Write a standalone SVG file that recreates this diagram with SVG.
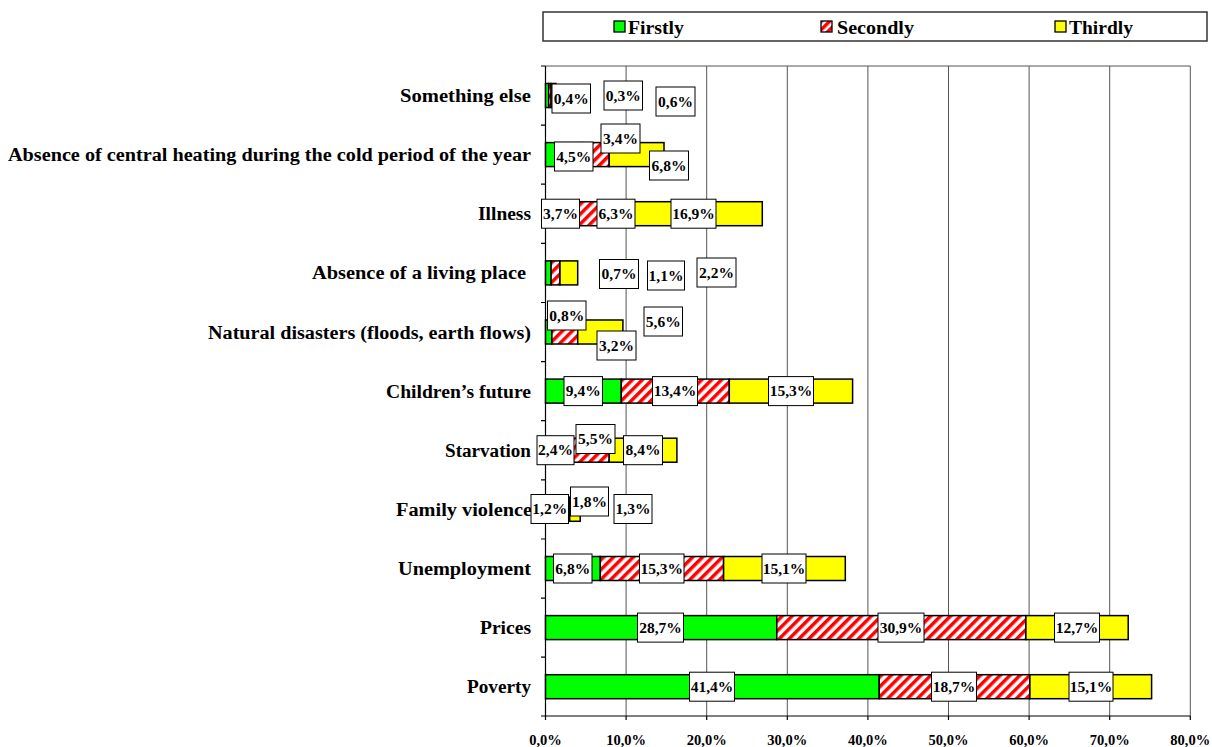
<svg xmlns="http://www.w3.org/2000/svg" width="1212" height="747" viewBox="0 0 1212 747">
<defs>
<pattern id="hatch" patternUnits="userSpaceOnUse" width="7" height="7" patternTransform="rotate(45)">
<rect width="7" height="7" fill="#fff"/>
<rect width="3.5" height="7" fill="#ff0000"/>
</pattern>
<pattern id="hatchS" patternUnits="userSpaceOnUse" width="6" height="6" patternTransform="rotate(45)">
<rect width="6" height="6" fill="#fff"/>
<rect width="3.5" height="6" fill="#ff0000"/>
</pattern>
</defs>
<style>
text{font-family:"Liberation Serif","Times New Roman",serif;font-weight:bold;fill:#000}
.cat{font-size:18px;text-anchor:end}
.tick{font-size:14.5px;text-anchor:middle}
.leg{font-size:18px}
.lbl rect{fill:#fff;stroke:#000;stroke-width:1}
.lbl text{font-size:15.5px;text-anchor:middle}
.grid{stroke:#555;stroke-width:1}
.g{fill:#00ff00;stroke:#000;stroke-width:1.5}
.r{fill:url(#hatch);stroke:#000;stroke-width:1.5}
.y{fill:#ffff00;stroke:#000;stroke-width:1.5}
.axis{stroke:#000;stroke-width:1.2;fill:none}
</style>
<rect width="1212" height="747" fill="#fff"/>

<g id="legend">
<rect x="543" y="12" width="664" height="29" fill="#fff" stroke="#333" stroke-width="1.5"/>
<rect x="614" y="21" width="11" height="11" fill="#00ff00" stroke="#000" stroke-width="1.3"/>
<text class="leg" x="628" y="34" textLength="56" lengthAdjust="spacingAndGlyphs">Firstly</text>
<rect x="821" y="21" width="11" height="11" fill="url(#hatchS)" stroke="#000" stroke-width="1.3"/>
<text class="leg" x="837" y="34" textLength="77" lengthAdjust="spacingAndGlyphs">Secondly</text>
<rect x="1055" y="21" width="11" height="11" fill="#ffff00" stroke="#000" stroke-width="1.3"/>
<text class="leg" x="1069" y="34" textLength="64" lengthAdjust="spacingAndGlyphs">Thirdly</text>
</g>

<g id="gridlines">
<line class="grid" x1="545.5" y1="66" x2="1190.3" y2="66" stroke="#888"/>
<line class="grid" x1="626.1" y1="66" x2="626.1" y2="716"/>
<line class="grid" x1="706.7" y1="66" x2="706.7" y2="716"/>
<line class="grid" x1="787.3" y1="66" x2="787.3" y2="716"/>
<line class="grid" x1="867.9" y1="66" x2="867.9" y2="716"/>
<line class="grid" x1="948.5" y1="66" x2="948.5" y2="716"/>
<line class="grid" x1="1029.1" y1="66" x2="1029.1" y2="716"/>
<line class="grid" x1="1109.7" y1="66" x2="1109.7" y2="716"/>
<line class="grid" x1="1190.3" y1="66" x2="1190.3" y2="716"/>
</g>

<g id="axes">
<path class="axis" d="M545.5 66V716H1190.3"/>
<path class="axis" d="M541 66H545.5M541 125.1H545.5M541 184.2H545.5M541 243.4H545.5M541 302.5H545.5M541 361.6H545.5M541 420.7H545.5M541 479.8H545.5M541 539H545.5M541 598.1H545.5M541 657.2H545.5M541 716H545.5"/>
<path class="axis" d="M545.5 716V720M626.1 716V720M706.7 716V720M787.3 716V720M867.9 716V720M948.5 716V720M1029.1 716V720M1109.7 716V720M1190.3 716V720"/>
<text class="tick" x="545.5" y="745">0,0%</text>
<text class="tick" x="626.1" y="745">10,0%</text>
<text class="tick" x="706.7" y="745">20,0%</text>
<text class="tick" x="787.3" y="745">30,0%</text>
<text class="tick" x="867.9" y="745">40,0%</text>
<text class="tick" x="948.5" y="745">50,0%</text>
<text class="tick" x="1029.1" y="745">60,0%</text>
<text class="tick" x="1109.7" y="745">70,0%</text>
<text class="tick" x="1190.3" y="745">80,0%</text>
</g>

<g id="categories">
<text class="cat" x="531" y="102" textLength="131" lengthAdjust="spacingAndGlyphs">Something else</text>
<text class="cat" x="531" y="161" textLength="523" lengthAdjust="spacingAndGlyphs">Absence of central heating during the cold period of the year</text>
<text class="cat" x="531" y="220" textLength="53" lengthAdjust="spacingAndGlyphs">Illness</text>
<text class="cat" x="526" y="279" textLength="214" lengthAdjust="spacingAndGlyphs">Absence of a living place</text>
<text class="cat" x="531" y="338.5" textLength="323" lengthAdjust="spacingAndGlyphs">Natural disasters (floods, earth flows)</text>
<text class="cat" x="531" y="397.5" textLength="145" lengthAdjust="spacingAndGlyphs">Children’s future</text>
<text class="cat" x="531" y="456.5" textLength="86" lengthAdjust="spacingAndGlyphs">Starvation</text>
<text class="cat" x="532" y="515.5" textLength="136" lengthAdjust="spacingAndGlyphs">Family violence</text>
<text class="cat" x="531" y="575" textLength="133" lengthAdjust="spacingAndGlyphs">Unemployment</text>
<text class="cat" x="531" y="634" textLength="51" lengthAdjust="spacingAndGlyphs">Prices</text>
<text class="cat" x="531" y="693" textLength="64" lengthAdjust="spacingAndGlyphs">Poverty</text>
</g>

<g id="bar-something-else">
<rect class="g" x="545.5" y="83.5" width="3.2" height="24"/>
<rect class="r" x="548.7" y="83.5" width="2.4" height="24"/>
<rect class="y" x="551.1" y="83.5" width="4.9" height="24"/>
<g class="lbl"><rect x="552" y="84" width="38.5" height="29"/><text x="571.2" y="103.5">0,4%</text></g>
<g class="lbl"><rect x="604" y="81" width="38.5" height="29"/><text x="623.2" y="100.5">0,3%</text></g>
<g class="lbl"><rect x="656" y="87" width="39" height="29"/><text x="675.5" y="106.5">0,6%</text></g>
</g>

<g id="bar-central-heating">
<rect class="g" x="545.5" y="142.6" width="36.3" height="24"/>
<rect class="r" x="581.8" y="142.6" width="27.4" height="24"/>
<rect class="y" x="609.2" y="142.6" width="54.8" height="24"/>
<g class="lbl"><rect x="554.5" y="142" width="38.5" height="29"/><text x="573.7" y="161.5">4,5%</text></g>
<g class="lbl"><rect x="601" y="124" width="39" height="29"/><text x="620.5" y="143.5">3,4%</text></g>
<g class="lbl"><rect x="649.5" y="151" width="39" height="29"/><text x="669" y="170.5">6,8%</text></g>
</g>

<g id="bar-illness">
<rect class="g" x="545.5" y="201.7" width="29.8" height="24"/>
<rect class="r" x="575.3" y="201.7" width="50.8" height="24"/>
<rect class="y" x="626.1" y="201.7" width="136.2" height="24"/>
<g class="lbl"><rect x="541.5" y="199.2" width="38" height="29"/><text x="560.5" y="218.7">3,7%</text></g>
<g class="lbl"><rect x="597" y="199.2" width="38" height="29"/><text x="616" y="218.7">6,3%</text></g>
<g class="lbl"><rect x="671" y="199.2" width="45" height="29"/><text x="693.5" y="218.7">16,9%</text></g>
</g>

<g id="bar-living-place">
<rect class="g" x="545.5" y="260.9" width="5.6" height="24"/>
<rect class="r" x="551.1" y="260.9" width="8.9" height="24"/>
<rect class="y" x="560" y="260.9" width="17.7" height="24"/>
<g class="lbl"><rect x="599.5" y="259.5" width="39" height="29"/><text x="619" y="279">0,7%</text></g>
<g class="lbl"><rect x="647.5" y="261" width="37" height="29"/><text x="666" y="280.5">1,1%</text></g>
<g class="lbl"><rect x="697" y="258" width="39" height="29"/><text x="716.5" y="277.5">2,2%</text></g>
</g>

<g id="bar-natural-disasters">
<rect class="g" x="545.5" y="320" width="6.4" height="24"/>
<rect class="r" x="551.9" y="320" width="25.8" height="24"/>
<rect class="y" x="577.7" y="320" width="45.2" height="24"/>
<g class="lbl"><rect x="547.5" y="301" width="38.5" height="29"/><text x="566.7" y="320.5">0,8%</text></g>
<g class="lbl"><rect x="644" y="307" width="38.5" height="29"/><text x="663.2" y="326.5">5,6%</text></g>
<g class="lbl"><rect x="597" y="331" width="39" height="29"/><text x="616.5" y="350.5">3,2%</text></g>
</g>

<g id="bar-childrens-future">
<rect class="g" x="545.5" y="379.1" width="75.8" height="24"/>
<rect class="r" x="621.3" y="379.1" width="108" height="24"/>
<rect class="y" x="729.3" y="379.1" width="123.3" height="24"/>
<g class="lbl"><rect x="564" y="376.6" width="38.5" height="29"/><text x="583.2" y="396.1">9,4%</text></g>
<g class="lbl"><rect x="652.5" y="376.6" width="45" height="29"/><text x="675" y="396.1">13,4%</text></g>
<g class="lbl"><rect x="768.5" y="376.6" width="45" height="29"/><text x="791" y="396.1">15,3%</text></g>
</g>

<g id="bar-starvation">
<rect class="g" x="545.5" y="438.2" width="19.3" height="24"/>
<rect class="r" x="564.8" y="438.2" width="44.4" height="24"/>
<rect class="y" x="609.2" y="438.2" width="67.7" height="24"/>
<g class="lbl"><rect x="537" y="435.7" width="37" height="29"/><text x="555.5" y="455.2">2,4%</text></g>
<g class="lbl"><rect x="576" y="424.5" width="39" height="29"/><text x="595.5" y="444">5,5%</text></g>
<g class="lbl"><rect x="623.5" y="435.7" width="39" height="29"/><text x="643" y="455.2">8,4%</text></g>
</g>

<g id="bar-family-violence">
<rect class="g" x="545.5" y="497.3" width="9.7" height="24"/>
<rect class="r" x="555.2" y="497.3" width="14.5" height="24"/>
<rect class="y" x="569.7" y="497.3" width="10.5" height="24"/>
<g class="lbl"><rect x="531" y="494.5" width="37.5" height="29"/><text x="549.7" y="514">1,2%</text></g>
<g class="lbl"><rect x="570.5" y="487" width="38" height="29"/><text x="589.5" y="506.5">1,8%</text></g>
<g class="lbl"><rect x="614" y="494.5" width="38" height="29"/><text x="633" y="514">1,3%</text></g>
</g>

<g id="bar-unemployment">
<rect class="g" x="545.5" y="556.5" width="54.8" height="24"/>
<rect class="r" x="600.3" y="556.5" width="123.3" height="24"/>
<rect class="y" x="723.6" y="556.5" width="121.7" height="24"/>
<g class="lbl"><rect x="553.5" y="554" width="38.5" height="29"/><text x="572.7" y="573.5">6,8%</text></g>
<g class="lbl"><rect x="639.5" y="554" width="44.5" height="29"/><text x="661.7" y="573.5">15,3%</text></g>
<g class="lbl"><rect x="762" y="554" width="44" height="29"/><text x="784" y="573.5">15,1%</text></g>
</g>

<g id="bar-prices">
<rect class="g" x="545.5" y="615.6" width="231.3" height="24"/>
<rect class="r" x="776.8" y="615.6" width="249.1" height="24"/>
<rect class="y" x="1025.9" y="615.6" width="102.3" height="24"/>
<g class="lbl"><rect x="637.5" y="613.1" width="46" height="29"/><text x="660.5" y="632.6">28,7%</text></g>
<g class="lbl"><rect x="878" y="613.1" width="46" height="29"/><text x="901" y="632.6">30,9%</text></g>
<g class="lbl"><rect x="1054.5" y="613.1" width="45" height="29"/><text x="1077" y="632.6">12,7%</text></g>
</g>

<g id="bar-poverty">
<rect class="g" x="545.5" y="674.7" width="333.7" height="24"/>
<rect class="r" x="879.2" y="674.7" width="150.7" height="24"/>
<rect class="y" x="1029.9" y="674.7" width="121.7" height="24"/>
<g class="lbl"><rect x="689.5" y="672.2" width="45" height="29"/><text x="712" y="691.7">41,4%</text></g>
<g class="lbl"><rect x="931.5" y="672.2" width="45" height="29"/><text x="954" y="691.7">18,7%</text></g>
<g class="lbl"><rect x="1069" y="672.2" width="44" height="29"/><text x="1091" y="691.7">15,1%</text></g>
</g>
</svg>
